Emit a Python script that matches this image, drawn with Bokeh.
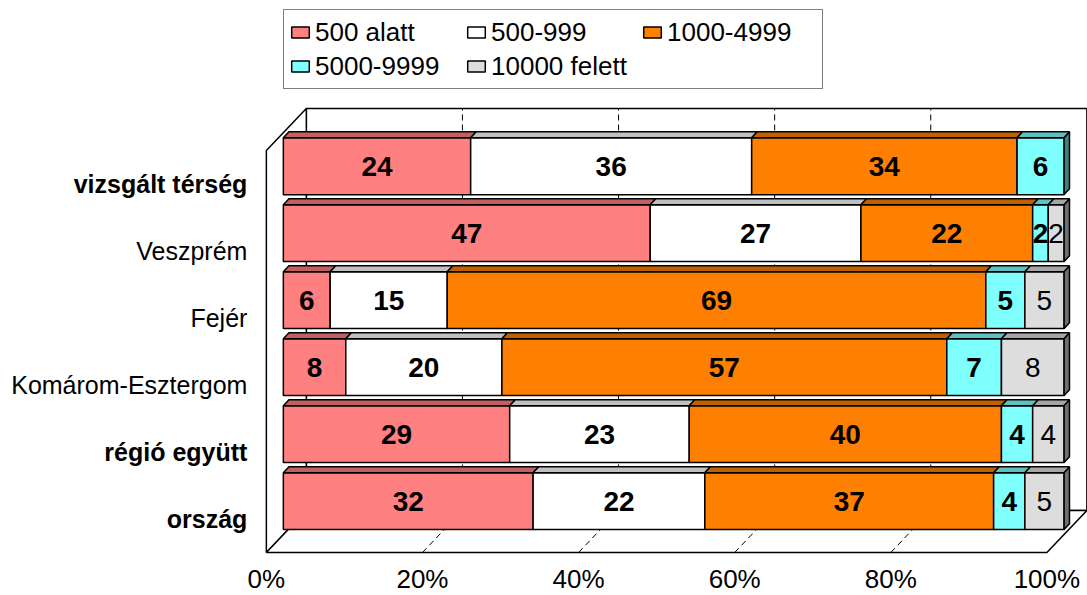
from bokeh.plotting import figure
from bokeh.models import ColumnDataSource, Range1d, Legend, LegendItem
from bokeh.core.properties import value, field
from bokeh.embed import file_html
from bokeh.resources import INLINE

# ---------------- data ----------------
categories = ["vizsgált térség", "Veszprém", "Fejér", "Komárom-Esztergom", "régió együtt", "ország"]
bold_categories = ["vizsgált térség", "régió együtt", "ország"]
series_names = ["500 alatt", "500-999", "1000-4999", "5000-9999", "10000 felett"]
v_500_alatt = [24, 47, 6, 8, 29, 32]
v_500_999 = [36, 27, 15, 20, 23, 22]
v_1000_4999 = [34, 22, 69, 57, 40, 37]
v_5000_9999 = [6, 2, 5, 7, 4, 4]
v_10000_felett = [0, 2, 5, 8, 4, 5]
tick_values = [0, 20, 40, 60, 80, 100]
tick_labels = ["0%", "20%", "40%", "60%", "80%", "100%"]

series_values = [v_500_alatt, v_500_999, v_1000_4999, v_5000_9999, v_10000_felett]

# ---------------- styles ----------------
front_colors = ["#FF8080", "#FFFFFF", "#FF8000", "#80FFFF", "#DDDDDD"]
top_colors = ["#C06060", "#C0C0C0", "#C06000", "#60C0C0", "#A6A6A6"]
side_colors = ["#804040", "#808080", "#804000", "#408080", "#6F6F6F"]
label_styles = ["bold", "bold", "bold", "bold", "normal"]
FONT = "Liberation Sans"

# 3D projection constants (x in %, y in category rows)
DEPTH_X = 5.12
DEPTH_Y = 0.627
BAR_D0 = 0.425
BAR_DB = 0.14
BAR_H = 0.85
N_ROWS = len(categories)

ox, oy = BAR_D0 * DEPTH_X, BAR_D0 * DEPTH_Y
bx, by = BAR_DB * DEPTH_X, BAR_DB * DEPTH_Y
row_center = [N_ROWS - 1 - i + 0.5 for i in range(N_ROWS)]

p = figure(width=1087, height=595,
           x_range=Range1d(-34.06, 105.2), y_range=Range1d(-0.642, 8.239),
           output_backend="svg", toolbar_location=None, min_border=0,
           x_axis_location=None, y_axis_location=None,
           outline_line_color=None, background_fill_color="white",
           border_fill_color="white")
p.xgrid.visible = False
p.ygrid.visible = False

# ---------------- walls ----------------
top = float(N_ROWS)
wall_src = ColumnDataSource(dict(
    xs=[[DEPTH_X, 100 + DEPTH_X, 100 + DEPTH_X, DEPTH_X],       # back wall
        [0, DEPTH_X, DEPTH_X, 0],                                 # left wall
        [0, 100, 100 + DEPTH_X, DEPTH_X]],                        # floor
    ys=[[DEPTH_Y, DEPTH_Y, top + DEPTH_Y, top + DEPTH_Y],
        [0, DEPTH_Y, top + DEPTH_Y, top],
        [0, 0, DEPTH_Y, DEPTH_Y]],
))
p.patches("xs", "ys", source=wall_src, fill_color="white", line_color="black",
          line_width=1.5)

# gridlines (back wall verticals + floor diagonals)
grid_xs, grid_ys = [], []
for g in tick_values[1:-1]:
    grid_xs.append([g + DEPTH_X, g + DEPTH_X])
    grid_ys.append([DEPTH_Y, top + DEPTH_Y])
    grid_xs.append([g, g + DEPTH_X])
    grid_ys.append([0, DEPTH_Y])
p.multi_line(grid_xs, grid_ys, line_color="black", line_width=1, line_dash="6 4")

# ---------------- bars ----------------
side = dict(xs=[], ys=[], color=[])
fronts, tops, labels = [], [], []
cum = [0.0] * N_ROWS
for j, vals in enumerate(series_values):
    f = dict(left=[], right=[], bottom=[], top=[])
    t = dict(xs=[], ys=[])
    lab = dict(x=[], y=[], text=[])
    for i, v in enumerate(vals):
        if v <= 0:
            continue
        xl = cum[i] + ox
        xr = cum[i] + v + ox
        yb = row_center[i] - BAR_H / 2 + oy
        yt = row_center[i] + BAR_H / 2 + oy
        f["left"].append(xl); f["right"].append(xr)
        f["bottom"].append(yb); f["top"].append(yt)
        t["xs"].append([xl, xr, xr + bx, xl + bx])
        t["ys"].append([yt, yt, yt + by, yt + by])
        side["xs"].append([xr, xr + bx, xr + bx, xr])
        side["ys"].append([yb, yb + by, yt + by, yt])
        side["color"].append(side_colors[j])
        lab["x"].append((xl + xr) / 2)
        lab["y"].append((yb + yt) / 2)
        lab["text"].append(str(v))
        cum[i] += v
    fronts.append(f); tops.append(t); labels.append(lab)

p.patches("xs", "ys", source=ColumnDataSource(side), fill_color="color",
          line_color="black", line_width=1.5)

legend_items = []
for j in range(len(series_values)):
    r = p.quad(left="left", right="right", bottom="bottom", top="top",
               source=ColumnDataSource(fronts[j]), fill_color=front_colors[j],
               line_color="black", line_width=1.5)
    p.patches("xs", "ys", source=ColumnDataSource(tops[j]), fill_color=top_colors[j],
              line_color="black", line_width=1.5)
    legend_items.append(LegendItem(label=series_names[j], renderers=[r]))

for j in range(len(series_values)):
    p.text("x", "y", text="text", source=ColumnDataSource(labels[j]),
           text_font=value(FONT), text_font_size="28px",
           text_font_style=label_styles[j], text_align="center",
           text_baseline="middle", text_color="black")

# ---------------- category labels ----------------
cat_src = ColumnDataSource(dict(
    x=[-2.43] * N_ROWS,
    y=row_center,
    text=categories,
    style=["bold" if c in bold_categories else "normal" for c in categories],
))
p.text("x", "y", text="text", source=cat_src, text_font=value(FONT),
       text_font_size="25px", text_font_style=field("style"),
       text_align="right", text_baseline="middle", text_color="black")

# ---------------- x tick labels ----------------
tick_src = ColumnDataSource(dict(x=tick_values, y=[-0.39] * len(tick_values),
                                 text=tick_labels))
p.text("x", "y", text="text", source=tick_src, text_font=value(FONT),
       text_font_size="26px", text_align="center", text_baseline="middle",
       text_color="black")

# ---------------- legend ----------------
legend = Legend(items=legend_items, orientation="horizontal", ncols=3,
                location=(283, 506), padding=5, spacing=0, margin=0,
                label_width=150, label_height=34, glyph_width=22, glyph_height=14,
                label_standoff=4, label_text_font=FONT, label_text_font_size="26px",
                label_text_color="black",
                border_line_color="black", border_line_width=1.5,
                background_fill_color="white", background_fill_alpha=1.0)
p.add_layout(legend)

open("out.html", "w").write(file_html(p, INLINE))
